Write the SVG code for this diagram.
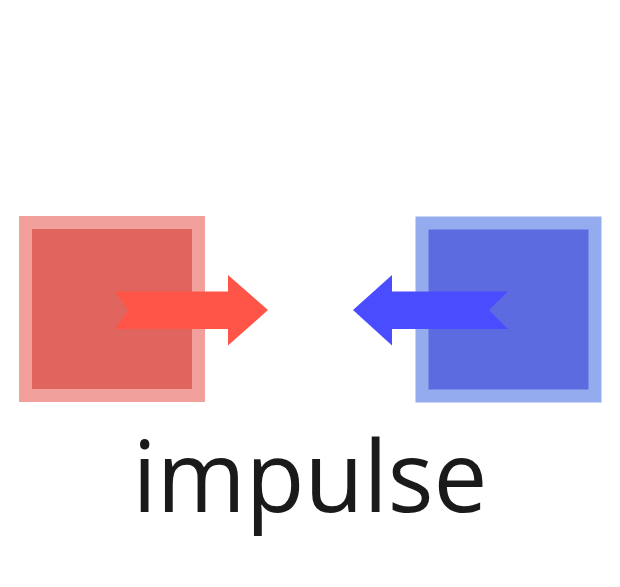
<svg xmlns="http://www.w3.org/2000/svg" width="620" height="587" viewBox="0 0 620 587">
<style>
.box{stroke-width:13}
.label{font-family:"Open Sans","Noto Sans",sans-serif;font-size:98px;fill:#1a1a1a;text-anchor:middle}
</style>
<rect width="620" height="587" fill="#ffffff"/>
<g id="red-box">
<rect class="box" x="25.5" y="222.5" width="173" height="173" fill="#E0655E" stroke="#F2A09B"/>
</g>
<g id="blue-box">
<rect class="box" x="422" y="223" width="173" height="173" fill="#5C6CE0" stroke="#94ABEE"/>
</g>
<g id="connectors">
<polygon id="red-arrow" points="115,291.5 228,291.5 228,275 268,310 228,345.5 228,329 115,329 128,310" fill="#FF5549"/>
<polygon id="blue-arrow" points="508,291.5 392,291.5 392,275 353,310 392,345.5 392,329 508,329 489,310" fill="#4A4DFF"/>
</g>
<g id="caption">
<text class="label" x="310" y="512" textLength="355" lengthAdjust="spacingAndGlyphs">impulse</text>
</g>
</svg>
